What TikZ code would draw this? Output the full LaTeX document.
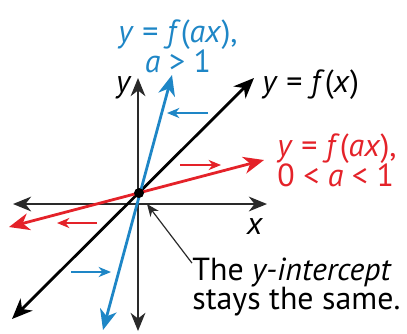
\documentclass[tikz,border=0pt]{standalone}
\usepackage{fontspec}
\setmainfont{PT Sans}
\usepackage{xcolor}
\usetikzlibrary{arrows.meta,positioning}
\definecolor{stretchblue}{HTML}{1E86C6}
\definecolor{shrinkred}{HTML}{E42229}
\definecolor{axisgray}{HTML}{2A2A2A}
\tikzset{
  axisline/.style={{Stealth[length=3.2mm,width=2.6mm,inset=1mm]}-{Stealth[length=3.2mm,width=2.6mm,inset=1mm]},line width=0.9pt,draw=axisgray},
  graphline/.style={{Stealth[length=3.6mm,width=3mm,inset=1.1mm]}-{Stealth[length=3.6mm,width=3mm,inset=1.1mm]},line width=1.4pt},
  shiftarrow/.style={-{Stealth[length=2.2mm,width=1.8mm,inset=0.7mm]},line width=0.6pt},
  lbl/.style={font=\fontsize{16}{15}\selectfont,inner sep=0pt,align=left}
}
\begin{document}
\begin{tikzpicture}[x=0.5bp,y=-0.5bp]
\useasboundingbox (0,0) rectangle (407,333);
% axes
\coordinate (xl) at (13,204);
\coordinate (xr) at (267,204);
\coordinate (yt) at (138,78);
\coordinate (yb) at (138,331);
\draw[axisline] (xl) -- (xr);
\draw[axisline] (yt) -- (yb);
\node[lbl] (xlab) at (255,227) {\textit{x}};
\node[lbl] (ylab) at (124,88) {\textit{y}};
% the three lines through the y-intercept
\coordinate (o) at (139,193);
\coordinate (bl) at (12,319);
\coordinate (br) at (254,78);
\coordinate (sl) at (103,330);
\coordinate (sr) at (172,75);
\coordinate (rl) at (9,227);
\coordinate (rr) at (264,160);
\draw[graphline,draw=black] (bl) -- (br);
\draw[graphline,draw=stretchblue] (sl) -- (sr);
\draw[graphline,draw=shrinkred] (rl) -- (rr);
\fill (o) circle (5);
% small arrows
\coordinate (bt1) at (208,113);
\coordinate (bt2) at (167,113);
\coordinate (bb1) at (71,272);
\coordinate (bb2) at (111,272);
\coordinate (rt1) at (180,165);
\coordinate (rt2) at (221,165);
\coordinate (rb1) at (97,223);
\coordinate (rb2) at (57,223);
\draw[shiftarrow,draw=stretchblue] (bt1) -- (bt2);
\draw[shiftarrow,draw=stretchblue] (bb1) -- (bb2);
\draw[shiftarrow,draw=shrinkred] (rt1) -- (rt2);
\draw[shiftarrow,draw=shrinkred] (rb1) -- (rb2);
% labels
\node[lbl,align=center,text=stretchblue] (bluelab) at (178,46) {\textit{y} = \textit{f}(\textit{ax}),\\\textit{a} > 1};
\node[lbl,anchor=west] (blacklab) at (262,85) {\textit{y} = \textit{f}(\textit{x})};
\node[lbl,anchor=west,text=shrinkred] (redlab) at (277,160) {\textit{y} = \textit{f}(\textit{ax}),\\0 < \textit{a} < 1};
\node[lbl,anchor=west] (note) at (192,287) {The \textit{y-intercept}\\stays the same.};
\coordinate (yint) at (147,204);
\draw[shiftarrow,draw=axisgray] ([yshift=-3bp]note.north west) -- (yint);
\end{tikzpicture}
\end{document}
